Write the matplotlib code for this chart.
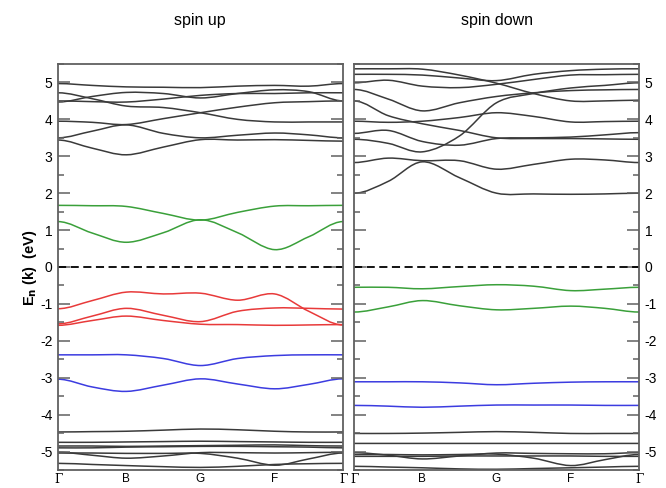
import numpy as np
import matplotlib
matplotlib.use('Agg')
import matplotlib.pyplot as plt
from matplotlib.path import Path
from matplotlib.patches import PathPatch
from matplotlib.ticker import MultipleLocator

plt.rcParams['font.family'] = ['Liberation Sans', 'DejaVu Sans']
plt.rcParams['axes.unicode_minus'] = False

# k-path sample points and high-symmetry labels
k_points = [0, 0.12, 0.24, 0.37, 0.5, 0.63, 0.76, 0.88, 1.0]
k_ticks = [0, 0.24, 0.5, 0.76, 1.0]
k_labels = ['Γ', 'B', 'G', 'F', 'Γ']

# spin up bands (eV) at k_points
up_black = [
    [4.97, 4.92, 4.88, 4.87, 4.86, 4.90, 4.92, 4.90, 4.97],
    [4.72, 4.56, 4.36, 4.32, 4.18, 4.00, 3.93, 3.93, 3.93],
    [4.47, 4.62, 4.73, 4.70, 4.58, 4.70, 4.80, 4.75, 4.50],
    [4.50, 4.48, 4.47, 4.55, 4.65, 4.70, 4.70, 4.72, 4.72],
    [3.95, 3.92, 3.86, 4.02, 4.18, 4.33, 4.45, 4.48, 4.50],
    [3.50, 3.68, 3.85, 3.62, 3.50, 3.57, 3.63, 3.58, 3.50],
    [3.44, 3.22, 3.04, 3.25, 3.45, 3.44, 3.45, 3.43, 3.41],
]
up_green = [
    [1.67, 1.66, 1.64, 1.45, 1.27, 1.48, 1.65, 1.66, 1.67],
    [1.23, 0.92, 0.67, 0.93, 1.28, 0.93, 0.47, 0.82, 1.23],
]
up_red = [
    [-1.13, -0.91, -0.68, -0.73, -0.71, -0.90, -0.73, -1.20, -1.57],
    [-1.54, -1.33, -1.12, -1.31, -1.48, -1.20, -1.11, -1.12, -1.14],
    [-1.58, -1.45, -1.33, -1.45, -1.55, -1.56, -1.58, -1.57, -1.56],
]
up_blue = [
    [-2.38, -2.38, -2.38, -2.48, -2.67, -2.48, -2.40, -2.38, -2.38],
    [-3.04, -3.25, -3.37, -3.20, -3.03, -3.17, -3.30, -3.18, -3.03],
]
up_core = [
    [-4.47, -4.46, -4.45, -4.42, -4.39, -4.41, -4.45, -4.47, -4.47],
    [-4.75, -4.75, -4.74, -4.73, -4.72, -4.73, -4.74, -4.75, -4.75],
    [-4.85, -4.85, -4.86, -4.85, -4.84, -4.83, -4.82, -4.84, -4.85],
    [-4.90, -4.90, -4.88, -4.87, -4.86, -4.86, -4.87, -4.88, -4.90],
    [-5.02, -5.10, -5.18, -5.12, -5.03, -5.03, -5.04, -5.03, -5.02],
    [-5.04, -5.04, -5.05, -5.05, -5.05, -5.18, -5.37, -5.20, -5.04],
    [-5.32, -5.35, -5.38, -5.41, -5.43, -5.40, -5.35, -5.33, -5.32],
]

# spin down bands (eV) at k_points
down_black = [
    [5.37, 5.37, 5.36, 5.20, 4.98, 4.70, 4.50, 4.50, 4.52],
    [5.22, 5.22, 5.20, 5.12, 5.05, 5.22, 5.32, 5.36, 5.37],
    [4.99, 5.06, 4.90, 4.86, 4.95, 5.08, 5.20, 5.21, 5.22],
    [4.81, 4.55, 4.23, 4.45, 4.62, 4.72, 4.78, 4.80, 4.81],
    [4.50, 4.10, 3.88, 3.70, 3.50, 3.48, 3.48, 3.47, 3.46],
    [3.95, 3.92, 3.95, 4.05, 4.18, 4.08, 3.93, 3.94, 3.95],
    [3.62, 3.70, 3.40, 3.30, 3.48, 3.50, 3.52, 3.58, 3.64],
    [3.46, 3.35, 3.12, 3.55, 4.45, 4.70, 4.85, 4.92, 4.99],
    [2.83, 2.95, 2.88, 2.88, 2.65, 2.78, 2.92, 2.90, 2.83],
    [2.00, 2.32, 2.85, 2.42, 2.00, 1.98, 1.97, 1.98, 2.00],
]
down_green = [
    [-0.55, -0.55, -0.59, -0.53, -0.48, -0.52, -0.64, -0.60, -0.55],
    [-1.22, -1.08, -0.91, -1.05, -1.16, -1.12, -1.06, -1.12, -1.22],
]
down_blue = [
    [-3.11, -3.11, -3.11, -3.14, -3.19, -3.15, -3.12, -3.11, -3.11],
    [-3.75, -3.77, -3.80, -3.77, -3.74, -3.74, -3.74, -3.75, -3.75],
]
down_core = [
    [-4.51, -4.51, -4.50, -4.48, -4.46, -4.48, -4.51, -4.51, -4.51],
    [-4.78, -4.78, -4.78, -4.78, -4.78, -4.78, -4.78, -4.78, -4.78],
    [-5.03, -5.10, -5.20, -5.12, -5.04, -5.05, -5.06, -5.06, -5.03],
    [-5.08, -5.08, -5.09, -5.08, -5.07, -5.18, -5.38, -5.22, -5.08],
    [-5.13, -5.13, -5.13, -5.12, -5.12, -5.12, -5.12, -5.13, -5.13],
    [-5.40, -5.42, -5.44, -5.47, -5.48, -5.46, -5.44, -5.42, -5.40],
]

BLACK = '#3a3a3a'
GREEN = '#3aa03a'
RED = '#e83a3a'
BLUE = '#3c3ce0'
FRAME = '#606060'


def band_path(x, y):
    # smooth curve through the sampled points, flat at the path ends
    x = np.asarray(x, float)
    y = np.asarray(y, float)
    xe = np.r_[2 * x[0] - x[1], x, 2 * x[-1] - x[-2]]
    ye = np.r_[y[1], y, y[-2]]
    verts = [(x[0], y[0])]
    codes = [Path.MOVETO]
    for i in range(1, len(xe) - 2):
        c1 = (xe[i] + (xe[i + 1] - xe[i - 1]) / 6, ye[i] + (ye[i + 1] - ye[i - 1]) / 6)
        c2 = (xe[i + 1] - (xe[i + 2] - xe[i]) / 6, ye[i + 1] - (ye[i + 2] - ye[i]) / 6)
        verts += [c1, c2, (xe[i + 1], ye[i + 1])]
        codes += [Path.CURVE4] * 3
    return Path(verts, codes)


def draw_bands(ax, bands, color, lw=1.1):
    for b in bands:
        ax.add_patch(PathPatch(band_path(k_points, b), facecolor='none',
                               edgecolor=color, lw=lw))


fig = plt.figure(figsize=(6.66, 4.88), dpi=100)
ax_up = fig.add_axes([58 / 666, 18 / 488, 285 / 666, 406 / 488])
ax_dn = fig.add_axes([354 / 666, 18 / 488, 285 / 666, 406 / 488])

draw_bands(ax_up, up_black, BLACK)
draw_bands(ax_up, up_green, GREEN)
draw_bands(ax_up, up_red, RED)
draw_bands(ax_up, up_blue, BLUE)
draw_bands(ax_up, up_core, BLACK)

draw_bands(ax_dn, down_black, BLACK)
draw_bands(ax_dn, down_green, GREEN)
draw_bands(ax_dn, down_blue, BLUE)
draw_bands(ax_dn, down_core, BLACK)

for ax in (ax_up, ax_dn):
    ax.axhline(0, color='black', lw=1.3, ls='--', dashes=(4.5, 2.5))
    ax.set_xlim(0, 1)
    ax.set_ylim(-5.5, 5.5)
    ax.yaxis.set_major_locator(MultipleLocator(1))
    ax.yaxis.set_minor_locator(MultipleLocator(0.5))
    ax.set_xticks(k_ticks)
    ax.set_xticklabels(k_labels)
    for lbl in ax.get_xticklabels():
        if lbl.get_text() == 'Γ':
            lbl.set_family('DejaVu Serif')
    ax.tick_params(axis='x', length=0, pad=2, labelsize=8.5)
    ax.tick_params(axis='y', which='both', direction='in', left=True, right=True,
                   color=FRAME, width=1.1, labelsize=10)
    ax.tick_params(axis='y', which='major', length=8.5)
    ax.tick_params(axis='y', which='minor', length=4.5)
    for s in ax.spines.values():
        s.set_color(FRAME)
        s.set_linewidth(1.3)

ax_up.tick_params(axis='y', labelleft=True, labelright=False, pad=4)
ax_dn.tick_params(axis='y', labelleft=False, labelright=True, pad=4)

fig.text(200 / 666, 1 - 20 / 488, 'spin up', ha='center', va='center', fontsize=11.5)
fig.text(497 / 666, 1 - 20 / 488, 'spin down', ha='center', va='center', fontsize=11.5)
fig.text(30 / 666, 1 - 268 / 488, r'E$_\mathbf{n}$ (k)  (eV)', rotation=90,
         ha='center', va='center', fontsize=10.5, fontweight='bold')

fig.savefig('out.png', dpi=100)
